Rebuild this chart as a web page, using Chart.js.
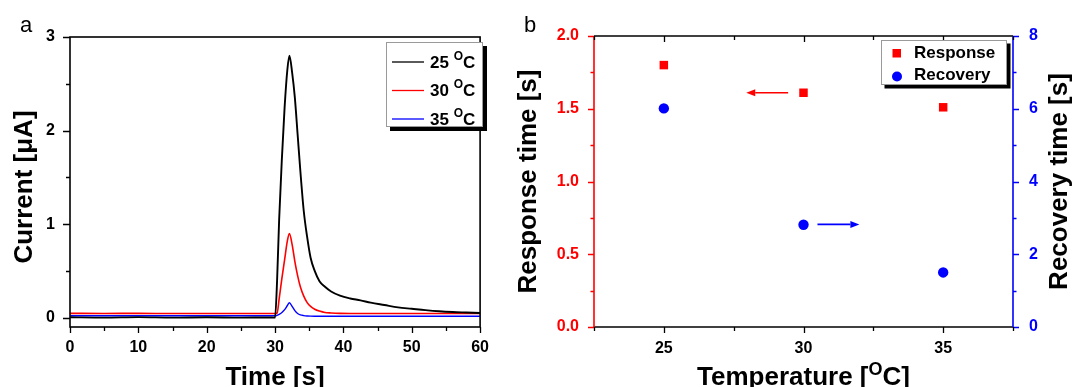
<!DOCTYPE html>
<html>
<head>
<meta charset="utf-8">
<script src="https://cdn.jsdelivr.net/npm/chart.js@4.4.0/dist/chart.umd.min.js"></script>
<style>
  html, body { margin: 0; padding: 0; background: #fff; }
  #wrap { position: relative; width: 1072px; height: 387px; overflow: hidden; }
  #ca { position: absolute; left: 0; top: 0; }
  #cb { position: absolute; left: 500px; top: 0; }
</style>
</head>
<body>
<div id="wrap">
  <canvas id="ca" width="500" height="387"></canvas>
  <canvas id="cb" width="572" height="387"></canvas>
</div>
<script>
const FONT = '"Liberation Sans", Arial, sans-serif';

// (a) current transients
const timeS = [0, 5, 10, 15, 20, 25, 29, 30, 30.3, 30.6, 31, 31.4, 31.8, 32.1, 32.5, 32.9, 33.3, 33.7, 34.2, 34.7, 35.2, 35.8, 36.5, 37.3, 38.2, 39.5, 41, 42.5, 44, 46, 48, 50, 52, 54, 56, 58, 60];
const current25 = [0.005, 0.0, 0.006, 0.0, 0.004, 0.0, 0.002, 0.0, 0.4, 1.05, 1.7, 2.25, 2.65, 2.8, 2.62, 2.35, 1.96, 1.57, 1.14, 0.86, 0.64, 0.5, 0.39, 0.33, 0.28, 0.235, 0.205, 0.185, 0.16, 0.135, 0.11, 0.095, 0.08, 0.068, 0.06, 0.055, 0.05];
const current30 = [0.046, 0.045, 0.046, 0.044, 0.045, 0.044, 0.045, 0.045, 0.05, 0.2, 0.42, 0.62, 0.82, 0.9, 0.78, 0.6, 0.45, 0.33, 0.23, 0.16, 0.12, 0.09, 0.07, 0.055, 0.05, 0.046, 0.045, 0.045, 0.045, 0.045, 0.045, 0.045, 0.045, 0.045, 0.045, 0.045, 0.045];
const current35 = [0.02, 0.02, 0.021, 0.02, 0.02, 0.02, 0.02, 0.02, 0.025, 0.035, 0.055, 0.085, 0.13, 0.16, 0.12, 0.075, 0.045, 0.03, 0.022, 0.018, 0.016, 0.015, 0.015, 0.015, 0.015, 0.015, 0.015, 0.015, 0.015, 0.015, 0.015, 0.015, 0.015, 0.015, 0.015, 0.015, 0.015];
const seriesTemps = ['25', '30', '35'];
const timeTicks = [0, 10, 20, 30, 40, 50, 60];
const currentTicks = [0, 1, 2, 3];

// (b) response / recovery times
const temps = [25, 30, 35];
const responseTime = [1.80, 1.61, 1.51];
const recoveryTime = [6.01, 2.81, 1.50];
const tempTicks = [25, 30, 35];
const responseTicks = [0, 0.5, 1, 1.5, 2];
const recoveryTicks = [0, 2, 4, 6, 8];
// arrows pointing to the matching axis, in data units
const responseArrow = [29.45, 27.95, 1.61];
const recoveryArrow = [30.5, 32.0, 2.82];

function pts(xs, ys) { return xs.map((x, i) => ({ x: x, y: ys[i] })); }
function fixTicks(list) { return s => { s.ticks = list.map(v => ({ value: v })); }; }
function minors(list) {
  const step = list[1] - list[0], out = [];
  list.forEach(v => { out.push(v - step / 2); });
  out.push(list[list.length - 1] + step / 2);
  return out;
}

// text with a superscript "O" for degrees
function richText(ctx, parts, x, y, size, align) {
  const big = 'bold ' + size + 'px ' + FONT, small = 'bold ' + Math.round(size * 0.68) + 'px ' + FONT;
  let w = 0;
  parts.forEach(p => { ctx.font = p.sup ? small : big; w += ctx.measureText(p.t).width; });
  let cx = align === 'center' ? x - w / 2 : x;
  ctx.textAlign = 'left';
  parts.forEach(p => {
    ctx.font = p.sup ? small : big;
    ctx.fillText(p.t, cx, p.sup ? y - size * 0.38 : y);
    cx += ctx.measureText(p.t).width;
  });
}
function degLabel(num) { return [{ t: num + ' ' }, { t: 'O', sup: true }, { t: 'C' }]; }

function vText(ctx, txt, x, y, size) {
  ctx.save();
  ctx.translate(x, y);
  ctx.rotate(-Math.PI / 2);
  ctx.font = 'bold ' + size + 'px ' + FONT;
  ctx.textAlign = 'center';
  ctx.textBaseline = 'alphabetic';
  ctx.fillText(txt, 0, 0);
  ctx.restore();
}

// tick marks along an edge; len > 0 points outward
function marks(ctx, scale, vals, edge, len, color) {
  const a = scale.chart.chartArea;
  ctx.strokeStyle = color;
  ctx.lineWidth = 1.3;
  ctx.beginPath();
  vals.forEach(v => {
    if (v < scale.min - 1e-9 || v > scale.max + 1e-9) return;
    const p = Math.round(scale.getPixelForValue(v)) + 0.5;
    if (edge === 'left') { ctx.moveTo(a.left, p); ctx.lineTo(a.left - len, p); }
    if (edge === 'right') { ctx.moveTo(a.right, p); ctx.lineTo(a.right + len, p); }
    if (edge === 'bottom') { ctx.moveTo(p, a.bottom); ctx.lineTo(p, a.bottom + len); }
    if (edge === 'top') { ctx.moveTo(p, a.top); ctx.lineTo(p, a.top - len); }
  });
  ctx.stroke();
}

function edgeLine(ctx, x1, y1, x2, y2, color) {
  ctx.strokeStyle = color;
  ctx.lineWidth = 1.6;
  ctx.beginPath();
  ctx.moveTo(x1, y1);
  ctx.lineTo(x2, y2);
  ctx.stroke();
}

function shadowBox(ctx, x, y, w, h, sh) {
  ctx.fillStyle = '#000';
  ctx.fillRect(x + sh, y + sh, w, h);
  ctx.fillStyle = '#fff';
  ctx.fillRect(x, y, w, h);
  ctx.strokeStyle = '#9a9a9a';
  ctx.lineWidth = 1;
  ctx.strokeRect(x + 0.5, y + 0.5, w - 1, h - 1);
}

function arrow(ctx, x1, x2, y, color) {
  const dir = Math.sign(x2 - x1), head = 9;
  ctx.strokeStyle = color;
  ctx.fillStyle = color;
  ctx.lineWidth = 1.6;
  ctx.beginPath();
  ctx.moveTo(x1, y);
  ctx.lineTo(x2 - dir * head, y);
  ctx.stroke();
  ctx.beginPath();
  ctx.moveTo(x2, y);
  ctx.lineTo(x2 - dir * head, y - 3.5);
  ctx.lineTo(x2 - dir * head, y + 3.5);
  ctx.closePath();
  ctx.fill();
}

const tickFont = { family: FONT, size: 16, weight: 'bold' };

// ---------- panel a ----------
const decoA = {
  id: 'decoA',
  afterDraw(chart) {
    const ctx = chart.ctx, a = chart.chartArea, x = chart.scales.x, y = chart.scales.y;
    ctx.save();
    ctx.strokeStyle = '#000';
    ctx.lineWidth = 1.6;
    ctx.strokeRect(a.left, a.top, a.right - a.left, a.bottom - a.top);
    marks(ctx, y, currentTicks, 'left', 7, '#000');
    marks(ctx, y, minors(currentTicks), 'left', 4, '#000');
    marks(ctx, x, timeTicks, 'bottom', 6, '#000');
    marks(ctx, x, minors(timeTicks), 'bottom', 4, '#000');

    // legend
    shadowBox(ctx, 386, 42, 97, 85, 4);
    ctx.textBaseline = 'middle';
    chart.data.datasets.forEach((ds, i) => {
      const yy = 62 + i * 28.5;
      ctx.strokeStyle = ds.borderColor;
      ctx.lineWidth = 1.3;
      ctx.beginPath();
      ctx.moveTo(392, yy);
      ctx.lineTo(424, yy);
      ctx.stroke();
      ctx.fillStyle = '#000';
      richText(ctx, degLabel(seriesTemps[i]), 430, yy + 1, 17, 'left');
    });

    ctx.fillStyle = '#000';
    ctx.textBaseline = 'alphabetic';
    ctx.font = 'bold 26px ' + FONT;
    ctx.textAlign = 'center';
    ctx.fillText('Time [s]', (a.left + a.right) / 2, 385);
    vText(ctx, 'Current [\u03bcA]', 32, (a.top + a.bottom) / 2 + 5, 26);
    ctx.font = '22px ' + FONT;
    ctx.textAlign = 'left';
    ctx.fillText('a', 20, 32);
    ctx.restore();
  }
};

new Chart(document.getElementById('ca'), {
  type: 'line',
  data: {
    datasets: [
      { label: seriesTemps[0] + ' \u00b0C', data: pts(timeS, current25), borderColor: '#000000', borderWidth: 1.9 },
      { label: seriesTemps[1] + ' \u00b0C', data: pts(timeS, current30), borderColor: '#ff0000', borderWidth: 1.6 },
      { label: seriesTemps[2] + ' \u00b0C', data: pts(timeS, current35), borderColor: '#0000ff', borderWidth: 1.4 }
    ]
  },
  options: {
    responsive: false,
    animation: false,
    layout: { padding: { left: 0, right: 11, top: 37, bottom: 0 } },
    elements: { point: { radius: 0 }, line: { cubicInterpolationMode: 'monotone' } },
    plugins: { legend: { display: false }, tooltip: { enabled: false } },
    scales: {
      x: {
        type: 'linear', min: 0, max: 60,
        afterBuildTicks: fixTicks(timeTicks),
        afterFit: s => { s.height = 60; },
        grid: { display: false, drawTicks: false }, border: { display: false },
        ticks: { font: tickFont, color: '#000', padding: 11, autoSkip: false, maxRotation: 0 }
      },
      y: {
        min: -0.1, max: 3,
        afterBuildTicks: fixTicks(currentTicks),
        afterFit: s => { s.width = 70; },
        grid: { display: false, drawTicks: false }, border: { display: false },
        ticks: { font: tickFont, color: '#000', padding: 15 }
      }
    }
  },
  plugins: [decoA]
});

// ---------- panel b ----------
const decoB = {
  id: 'decoB',
  afterDraw(chart) {
    const ctx = chart.ctx, a = chart.chartArea, x = chart.scales.x, y = chart.scales.y, y2 = chart.scales.y2;
    ctx.save();
    edgeLine(ctx, a.left, a.top, a.right, a.top, '#000');
    edgeLine(ctx, a.left, a.bottom, a.right, a.bottom, '#000');
    edgeLine(ctx, a.left, a.top, a.left, a.bottom, '#ff0000');
    edgeLine(ctx, a.right, a.top, a.right, a.bottom, '#0000ff');
    marks(ctx, y, responseTicks, 'left', 6, '#ff0000');
    marks(ctx, y, minors(responseTicks), 'left', 3.5, '#ff0000');
    marks(ctx, y2, recoveryTicks, 'right', 6, '#0000ff');
    marks(ctx, y2, minors(recoveryTicks), 'right', 3.5, '#0000ff');
    marks(ctx, x, tempTicks, 'bottom', 6, '#000');
    marks(ctx, x, minors(tempTicks), 'bottom', 4, '#000');
    marks(ctx, x, tempTicks, 'top', -6, '#000');
    marks(ctx, x, minors(tempTicks), 'top', -4, '#000');

    arrow(ctx, x.getPixelForValue(responseArrow[0]), x.getPixelForValue(responseArrow[1]), y.getPixelForValue(responseArrow[2]), '#ff0000');
    arrow(ctx, x.getPixelForValue(recoveryArrow[0]), x.getPixelForValue(recoveryArrow[1]), y2.getPixelForValue(recoveryArrow[2]), '#0000ff');

    // legend
    shadowBox(ctx, 381, 40, 126, 45, 3.5);
    ctx.fillStyle = '#ff0000';
    ctx.fillRect(392.5, 49, 8.5, 8.5);
    ctx.fillStyle = '#0000ff';
    ctx.beginPath();
    ctx.arc(397, 76.5, 5, 0, Math.PI * 2);
    ctx.fill();
    ctx.fillStyle = '#000';
    ctx.font = 'bold 17px ' + FONT;
    ctx.textAlign = 'left';
    ctx.textBaseline = 'middle';
    ctx.fillText(chart.data.datasets[0].label, 414, 53.5);
    ctx.fillText(chart.data.datasets[1].label, 414, 75.5);

    ctx.textBaseline = 'alphabetic';
    richText(ctx, [{ t: 'Temperature [' }, { t: 'O', sup: true }, { t: 'C]' }], (a.left + a.right) / 2, 385, 26, 'center');
    vText(ctx, 'Response time [s]', 36, (a.top + a.bottom) / 2, 26);
    vText(ctx, 'Recovery time [s]', 567, (a.top + a.bottom) / 2, 26);
    ctx.font = '22px ' + FONT;
    ctx.textAlign = 'left';
    ctx.fillText('b', 24, 32);
    ctx.restore();
  }
};

new Chart(document.getElementById('cb'), {
  type: 'scatter',
  data: {
    datasets: [
      { label: 'Response', data: pts(temps, responseTime), yAxisID: 'y', pointStyle: 'rect', pointRadius: 6, backgroundColor: '#ff0000', borderColor: '#ff0000', borderWidth: 0 },
      { label: 'Recovery', data: pts(temps, recoveryTime), yAxisID: 'y2', pointStyle: 'circle', pointRadius: 5.2, backgroundColor: '#0000ff', borderColor: '#0000ff', borderWidth: 0 }
    ]
  },
  options: {
    responsive: false,
    animation: false,
    layout: { padding: { left: 0, right: 0, top: 36, bottom: 0 } },
    plugins: { legend: { display: false }, tooltip: { enabled: false } },
    scales: {
      x: {
        type: 'linear', min: 22.5, max: 37.5,
        afterBuildTicks: fixTicks(tempTicks),
        afterFit: s => { s.height = 60; },
        grid: { display: false, drawTicks: false }, border: { display: false },
        ticks: { font: tickFont, color: '#000', padding: 12, autoSkip: false, maxRotation: 0 }
      },
      y: {
        position: 'left', min: 0, max: 2,
        afterBuildTicks: fixTicks(responseTicks),
        afterFit: s => { s.width = 94; },
        grid: { display: false, drawTicks: false }, border: { display: false },
        ticks: { font: tickFont, color: '#ff0000', padding: 15, callback: v => v.toFixed(1) }
      },
      y2: {
        position: 'right', min: 0, max: 8,
        afterBuildTicks: fixTicks(recoveryTicks),
        afterFit: s => { s.width = 59; },
        grid: { display: false, drawTicks: false }, border: { display: false },
        ticks: { font: tickFont, color: '#0000ff', padding: 16 }
      }
    }
  },
  plugins: [decoB]
});
</script>
</body>
</html>
